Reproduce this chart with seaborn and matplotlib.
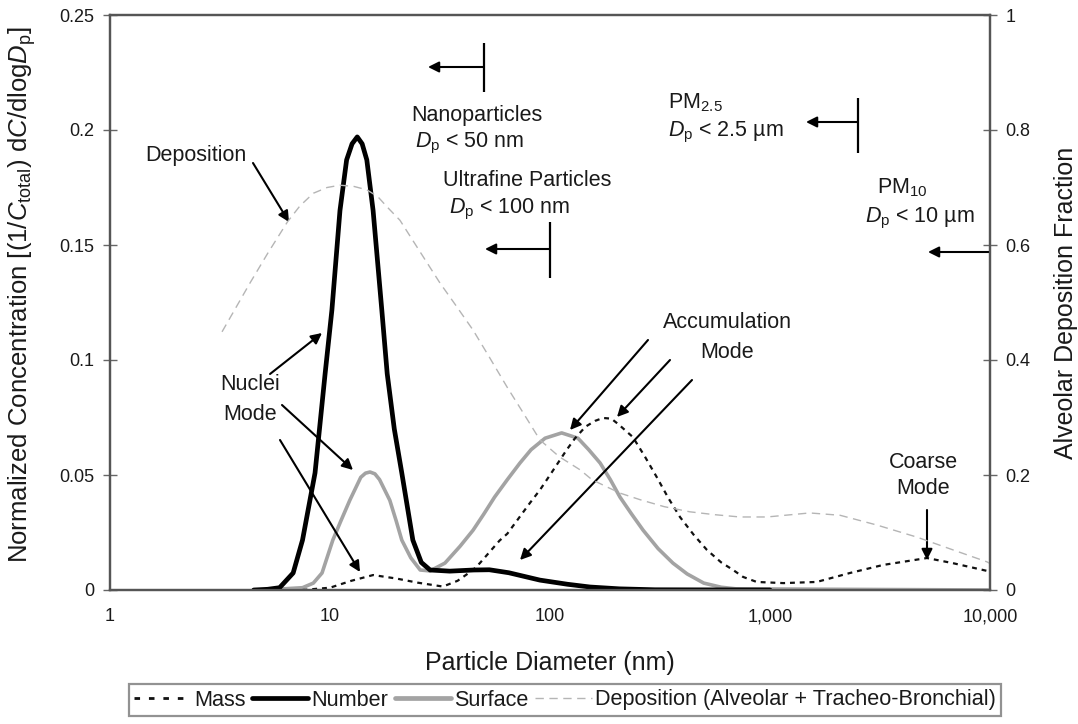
import matplotlib
matplotlib.use("Agg")
import matplotlib.pyplot as plt
import numpy as np
import pandas as pd
import seaborn as sns
from matplotlib.lines import Line2D

# ---------------- data ----------------
number_d = [4.5, 5.2, 5.9, 6.8, 7.5, 8.55, 9.5, 10.2, 11.1, 11.9, 12.6, 13.3, 14.0, 14.7, 15.7,
            17.2, 18.2, 19.6, 21.2, 23.8, 26.0, 28.5, 35, 45, 53, 65, 90, 120, 152, 207, 300, 1000]
number_v = [0, 0.0003, 0.001, 0.0074, 0.0217, 0.0509, 0.094, 0.1217, 0.165, 0.187, 0.194, 0.197,
            0.194, 0.187, 0.165, 0.1217, 0.094, 0.07, 0.0509, 0.0217, 0.012, 0.0087, 0.0082,
            0.0087, 0.0088, 0.0075, 0.0043, 0.0025, 0.0013, 0.0005, 0.0001, 0]

surface_d = [5, 7.5, 8.4, 9.2, 10.3, 11.2, 12.3, 13.8, 14.5, 15.2, 16.0, 16.8, 18.7, 20.0, 21.2,
             23.3, 25.7, 28.5, 33.3, 39, 44.7, 50, 56, 64, 73, 82, 95, 113, 134, 150, 169, 188,
             208, 235, 265, 310, 362, 420, 500, 600, 700, 10000]
surface_v = [0, 0.001, 0.003, 0.0074, 0.0217, 0.030, 0.039, 0.049, 0.0508, 0.0513, 0.0505,
             0.048, 0.039, 0.030, 0.0217, 0.014, 0.0087, 0.0083, 0.0117, 0.019, 0.026, 0.033,
             0.0404, 0.048, 0.0552, 0.061, 0.066, 0.0683, 0.066, 0.061, 0.0552, 0.048, 0.0404,
             0.033, 0.026, 0.018, 0.0117, 0.007, 0.003, 0.0012, 0.0005, 0]

mass_d = [7.5, 10, 12.5, 15.7, 20, 25, 32.6, 38, 44.7, 48, 59, 64, 81, 90, 100, 119, 130, 145,
          160, 174, 190, 205, 238, 270, 306, 345, 390, 450, 517, 600, 680, 754, 870, 1150, 1630,
          2310, 3270, 5170, 6760, 9300, 10000]
mass_v = [0, 0.001, 0.004, 0.0065, 0.005, 0.0032, 0.0015, 0.004, 0.0087, 0.0117, 0.0215,
          0.0245, 0.0378, 0.0435, 0.050, 0.0609, 0.066, 0.071, 0.0735, 0.0748, 0.0745, 0.072,
          0.0665, 0.058, 0.049, 0.040, 0.0317, 0.024, 0.0174, 0.012, 0.0087, 0.0057, 0.0035,
          0.003, 0.0035, 0.0074, 0.0109, 0.0139, 0.0117, 0.0087, 0.008]

deposition_d = [3.23, 4.33, 5.2, 6.4, 7.3, 8.4, 9.7, 11.1, 12.8, 14.7, 16.5, 18.2, 20.8, 25,
                31.6, 37, 44.7, 53, 63.8, 75, 90, 110, 137, 155, 182, 210, 257, 330, 432, 560,
                730, 969, 1515, 2080, 3060, 4650, 6760, 9680, 10000]
deposition_v = [0.449, 0.534, 0.585, 0.64, 0.668, 0.69, 0.70, 0.704, 0.702, 0.696, 0.684, 0.666,
                0.643, 0.595, 0.534, 0.497, 0.452, 0.405, 0.353, 0.31, 0.261, 0.232, 0.209,
                0.192, 0.179, 0.168, 0.157, 0.145, 0.136, 0.131, 0.127, 0.127, 0.134, 0.130,
                0.113, 0.092, 0.070, 0.049, 0.046]

x_ticks = [1, 10, 100, 1000, 10000]
x_tick_labels = ["1", "10", "100", "1,000", "10,000"]
left_ticks = [0, 0.05, 0.1, 0.15, 0.2, 0.25]
left_tick_labels = ["0", "0.05", "0.1", "0.15", "0.2", "0.25"]
right_ticks = [0, 0.2, 0.4, 0.6, 0.8, 1]
right_tick_labels = ["0", "0.2", "0.4", "0.6", "0.8", "1"]

# ---------------- style ----------------
sns.set_style("white")
plt.rcParams['font.family'] = ['Liberation Sans', 'DejaVu Sans']
plt.rcParams['mathtext.fontset'] = 'custom'
plt.rcParams['mathtext.rm'] = 'Liberation Sans'
plt.rcParams['mathtext.it'] = 'Liberation Sans:italic'
plt.rcParams['mathtext.bf'] = 'Liberation Sans:bold'
TXT = '#1a1a1a'
SPINE = '#555555'

fig = plt.figure(figsize=(10.78, 7.24), dpi=100)
ax = fig.add_axes([110 / 1078, 1 - 590 / 724, 880 / 1078, 575 / 724])
ax.set_xscale('log')
ax2 = ax.twinx()

df_num = pd.DataFrame({'d': number_d, 'v': number_v})
df_surf = pd.DataFrame({'d': surface_d, 'v': surface_v})
df_mass = pd.DataFrame({'d': mass_d, 'v': mass_v})
df_dep = pd.DataFrame({'d': deposition_d, 'v': deposition_v})

sns.lineplot(data=df_surf, x='d', y='v', ax=ax, color='#a3a3a3', lw=2.6, zorder=3)
l_surf = ax.lines[-1]
sns.lineplot(data=df_mass, x='d', y='v', ax=ax, color='#111111', lw=1.6, zorder=4)
l_mass = ax.lines[-1]
l_mass.set_dashes([2.2, 2.2])
sns.lineplot(data=df_num, x='d', y='v', ax=ax, color='#000000', lw=3.4, zorder=5)
l_num = ax.lines[-1]
sns.lineplot(data=df_dep, x='d', y='v', ax=ax2, color='#b5b5b5', lw=1.0, zorder=2)
l_dep = ax2.lines[-1]
l_dep.set_dashes([6, 4])
for ln in (l_surf, l_mass, l_num, l_dep):
    ln.set_solid_joinstyle('round')
    ln.set_dash_joinstyle('round')

ax.set_xlim(1, 10000)
ax.set_ylim(0, 0.25)
ax2.set_ylim(0, 1)
ax.set_xticks(x_ticks)
ax.set_xticklabels(x_tick_labels)
ax.xaxis.set_minor_locator(matplotlib.ticker.NullLocator())
ax.set_yticks(left_ticks)
ax.set_yticklabels(left_tick_labels)
ax2.set_yticks(right_ticks)
ax2.set_yticklabels(right_tick_labels)

for a in (ax, ax2):
    a.tick_params(direction='inout', length=10, width=1.0, color='#666666',
                  labelsize=13, labelcolor=TXT, pad=6)
    for s in a.spines.values():
        s.set_color(SPINE)
        s.set_linewidth(1.6)
ax.tick_params(axis='x', pad=8)

ax.set_xlabel("Particle Diameter (nm)", fontsize=18, color=TXT, labelpad=19)
ax.set_ylabel(r"Normalized Concentration [(1/$C_{\rm total}$) d$C$/dlog$D_{\rm p}$]",
              fontsize=18.5, color=TXT)
ax.yaxis.set_label_coords(-0.082, 0.513)
ax2.set_ylabel("Alveolar Deposition Fraction", fontsize=18, color=TXT, labelpad=17)
ax2.set_xlabel("")
ax2.grid(False)
ax.grid(False)


def af(px, py):
    """pixel position in the 1078x724 image -> axes fraction"""
    return ((px - 110) / 880, (590 - py) / 575)


FS = 15.5
arrow_kw = dict(arrowstyle='-|>', color='black', lw=1.5, mutation_scale=16, shrinkA=0, shrinkB=0)


def arrow(tail, head):
    ax.annotate("", xy=af(*head), xytext=af(*tail), xycoords='axes fraction',
                textcoords='axes fraction', arrowprops=arrow_kw, zorder=6)


def text(px, py, s, ha='center'):
    ax.text(*af(px, py), s, transform=ax.transAxes, fontsize=FS, color=TXT,
            ha=ha, va='center', zorder=7)


# Deposition label
text(196, 155, "Deposition")
arrow((253, 163), (289, 222))

# Nuclei mode
text(250, 385, "Nuclei")
text(250, 415, "Mode")
arrow((270, 374), (322, 333))
arrow((282, 405), (353, 470))
arrow((280, 440), (360, 572))

# Accumulation mode
text(727, 323, "Accumulation")
text(727, 352, "Mode")
arrow((648, 340), (570, 430))
arrow((670, 360), (617, 417))
arrow((692, 380), (520, 560))

# Coarse mode
text(923, 462, "Coarse")
text(923, 488, "Mode")
arrow((927, 510), (927, 560))

# size-class markers (bars at the class limits, arrows pointing to smaller sizes)
trans = ax.get_xaxis_transform()
limits = [50, 100, 2500, 10000]
bar_spans = [((43, 92), 67, 428), ((222, 278), 249, 485), ((98, 153), 122, 806), (None, 252, 928)]
for lim, (span, ay, ax_end) in zip(limits, bar_spans):
    if span is not None:
        ax.plot([lim, lim], [(590 - span[0]) / 575, (590 - span[1]) / 575], color='black',
                lw=1.6, transform=trans, zorder=6, solid_capstyle='butt')
    ax.annotate("", xy=(10 ** ((ax_end - 110) / 220), (590 - ay) / 575),
                xytext=(lim, (590 - ay) / 575), xycoords=trans, textcoords=trans,
                arrowprops=arrow_kw, zorder=6)

text(411, 115, "Nanoparticles", ha='left')
text(415, 143, r"$D_{\rm p}$ < 50 nm", ha='left')
text(443, 180, "Ultrafine Particles", ha='left')
text(449, 209, r"$D_{\rm p}$ < 100 nm", ha='left')
text(668, 103, r"PM$_{2.5}$", ha='left')
text(668, 132, r"$D_{\rm p}$ < 2.5 µm", ha='left')
text(877, 188, r"PM$_{10}$", ha='left')
text(865, 218, r"$D_{\rm p}$ < 10 µm", ha='left')

# legend
handles = [
    Line2D([], [], color='#111111', lw=2.0, dashes=[2.0, 3.2]),
    Line2D([], [], color='black', lw=3.4),
    Line2D([], [], color='#a3a3a3', lw=3.4),
    Line2D([], [], color='#b5b5b5', lw=1.0, dashes=[6, 4]),
]
labels = ["Mass", "Number", "Surface", "Deposition (Alveolar + Tracheo-Bronchial)"]
leg = fig.legend(handles, labels, loc='center', bbox_to_anchor=(565 / 1078, 1 - 700 / 724),
                 ncol=4, frameon=True, fancybox=False, fontsize=15.6, handlelength=2.6,
                 handletextpad=0.15, columnspacing=0.3, borderpad=0.25, borderaxespad=0)
leg.get_frame().set_edgecolor('#777777')
leg.get_frame().set_linewidth(1.6)
for t in leg.get_texts():
    t.set_color(TXT)

fig.savefig("out.png", dpi=100)
